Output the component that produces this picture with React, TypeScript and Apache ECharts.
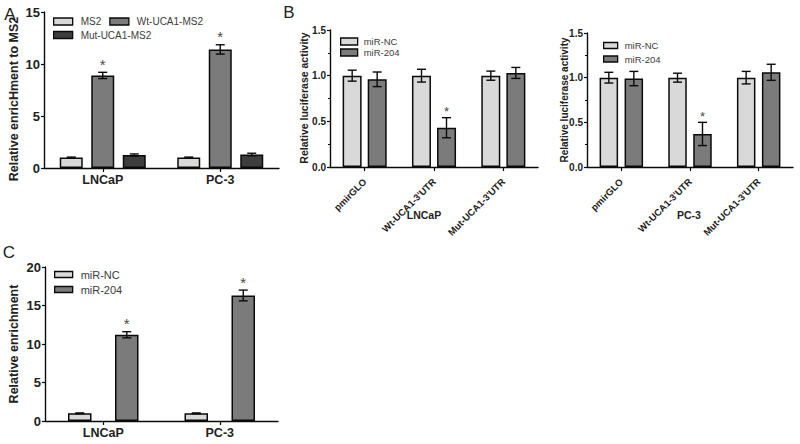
import React, { useEffect, useRef } from "react";
import * as echarts from "echarts";

// ---------- data ----------
const catsA = ["LNCaP", "PC-3"];
const ms2 = [1.0, 1.0];
const ms2Err = [0.05, 0.05];
const wtMs2 = [8.9, 11.4];
const wtMs2Err = [0.3, 0.45];
const mutMs2 = [1.25, 1.3];
const mutMs2Err = [0.1, 0.12];
const starsWtA = [1, 1];

const catsB = ["pmirGLO", "Wt-UCA1-3'UTR", "Mut-UCA1-3'UTR"];
const lucNcLNCaP = [1.0, 1.0, 1.0];
const lucNcLNCaPErr = [0.06, 0.07, 0.05];
const luc204LNCaP = [0.96, 0.43, 1.03];
const luc204LNCaPErr = [0.08, 0.11, 0.06];
const lucNcPC3 = [1.0, 1.0, 1.0];
const lucNcPC3Err = [0.06, 0.05, 0.07];
const luc204PC3 = [0.99, 0.37, 1.06];
const luc204PC3Err = [0.08, 0.13, 0.09];
const starsB = [0, 1, 0];

const catsC = ["LNCaP", "PC-3"];
const encNc = [1.0, 1.0];
const encNcErr = [0.05, 0.05];
const enc204 = [11.2, 16.3];
const enc204Err = [0.4, 0.7];
const starsC = [1, 1];

const ticksA = [0, 15, 5];
const ticksB = [0, 1.5, 0.5];
const ticksC = [0, 20, 5];

// ---------- styles ----------
const FONT = "'Liberation Sans', Arial, sans-serif";
const LIGHT = "#d9d9d9";
const MID = "#7b7b7b";
const DARK = "#3e3e3e";
const INK = "#0a0a0a";
const STAR = "#4a4a4a";

function bar(name: string, data: number[], g: number, color: string, bw: number, gap: string) {
  return {
    type: "bar",
    name,
    data,
    xAxisIndex: g,
    yAxisIndex: g,
    barWidth: bw,
    barGap: gap,
    itemStyle: { color, borderColor: INK, borderWidth: 1.5 },
    z: 2,
  };
}

function err(
  values: number[],
  errs: number[],
  stars: number[],
  g: number,
  k: number,
  n: number,
  bw: number,
  gapPx: number,
  cap: number,
  starSize: number,
  starLift: number
) {
  return {
    type: "custom",
    xAxisIndex: g,
    yAxisIndex: g,
    z: 5,
    silent: true,
    itemStyle: { color: STAR },
    data: values.map((v, i) => [i, v, errs[i], stars[i] || 0]),
    renderItem: (params: any, api: any) => {
      const i = api.value(0);
      const v = api.value(1);
      const e = api.value(2);
      const s = api.value(3);
      const base = api.coord([i, v]);
      const total = n * bw + (n - 1) * gapPx;
      const x = base[0] - total / 2 + bw / 2 + k * (bw + gapPx);
      const top = api.coord([i, v + e])[1];
      const bot = api.coord([i, v - e])[1];
      const ls = { stroke: INK, lineWidth: 1.4 };
      const children: any[] = [
        { type: "line", shape: { x1: x, y1: top, x2: x, y2: bot }, style: ls },
        { type: "line", shape: { x1: x - cap / 2, y1: top, x2: x + cap / 2, y2: top }, style: ls },
        { type: "line", shape: { x1: x - cap / 2, y1: bot, x2: x + cap / 2, y2: bot }, style: ls },
      ];
      if (s) {
        children.push({
          type: "text",
          x: x,
          y: top - starLift,
          style: {
            text: "*",
            fill: STAR,
            textFill: STAR,
            font: `${starSize}px ${FONT}`,
            textAlign: "center",
            textVerticalAlign: "middle",
          },
        });
      }
      return { type: "group", children };
    },
  };
}

function yAxisCfg(g: number, t: number[], fs: number, minor: boolean) {
  return {
    type: "value",
    gridIndex: g,
    min: t[0],
    max: t[1],
    interval: t[2],
    axisLine: { show: true, lineStyle: { color: INK, width: 1.4 } },
    axisTick: { show: true, length: 3, lineStyle: { color: INK, width: 1.2 } },
    minorTick: minor ? { show: true, splitNumber: 2, length: 2, lineStyle: { color: INK, width: 1 } } : { show: false },
    splitLine: { show: false },
    axisLabel: {
      fontFamily: FONT,
      fontWeight: "bold",
      fontSize: fs,
      color: "#222",
      margin: 4,
      formatter: (v: number) => (t[2] < 1 ? v.toFixed(1) : String(v)),
    },
  };
}

function xAxisCat(g: number, cats: string[], fs: number, rotate: number, margin: number) {
  return {
    type: "category",
    gridIndex: g,
    data: cats,
    axisLine: { show: true, lineStyle: { color: INK, width: 1.4 } },
    axisTick: { show: true, alignWithLabel: true, length: 4, lineStyle: { color: INK, width: 1.2 } },
    axisLabel: {
      interval: 0,
      rotate,
      fontFamily: FONT,
      fontWeight: "bold",
      fontSize: fs,
      color: "#222",
      margin,
    },
  };
}

function legendCfg(data: string[], left: number, top: number, opts: any) {
  return {
    data,
    left,
    top,
    padding: 0,
    icon: "rect",
    selectedMode: false,
    itemWidth: opts.w,
    itemHeight: opts.h,
    itemGap: opts.gap,
    orient: opts.orient || "horizontal",
    itemStyle: { borderColor: INK, borderWidth: 1.3 },
    textStyle: {
      fontFamily: FONT,
      fontSize: opts.fs,
      lineHeight: opts.lh,
      color: "#3c3c3c",
      padding: [0, 0, 0, opts.tp || 0],
    },
  };
}

function vtext(text: string, x: number, y: number, fs: number) {
  return {
    type: "text",
    x,
    y,
    rotation: Math.PI / 2,
    style: {
      text,
      font: `bold ${fs}px ${FONT}`,
      fill: "#222",
      textAlign: "center",
      textVerticalAlign: "middle",
    },
  };
}

function htext(text: string, x: number, y: number, font: string) {
  return {
    type: "text",
    x,
    y,
    style: { text, font, fill: "#222", textAlign: "center", textVerticalAlign: "middle" },
  };
}

export default function App() {
  const ref = useRef<HTMLDivElement>(null);
  useEffect(() => {
    if (!ref.current) return;
    const chart = echarts.init(ref.current, null, { renderer: "svg" });
    const option: any = {
      animation: false,
      backgroundColor: "#ffffff",
      textStyle: { fontFamily: FONT },
      grid: [
        { left: 44, top: 12, width: 235, height: 156 },
        { left: 330, top: 30, width: 208, height: 137 },
        { left: 587, top: 33, width: 206, height: 134 },
        { left: 45, top: 267, width: 233, height: 154 },
      ],
      xAxis: [
        xAxisCat(0, catsA, 12.5, 0, 5),
        xAxisCat(1, catsB, 9.5, 45, 13),
        xAxisCat(2, catsB, 9.5, 45, 13),
        xAxisCat(3, catsC, 12.5, 0, 5),
      ],
      yAxis: [
        yAxisCfg(0, ticksA, 13, false),
        yAxisCfg(1, ticksB, 10, true),
        yAxisCfg(2, ticksB, 10, true),
        yAxisCfg(3, ticksC, 13, false),
      ],
      legend: [
        legendCfg(["MS2", "Wt-UCA1-MS2"], 53, 15, { w: 19, h: 7, gap: 8, fs: 10, lh: 13, tp: 3 }),
        legendCfg(["Mut-UCA1-MS2"], 53, 28.5, { w: 19, h: 7, gap: 8, fs: 10, lh: 13, tp: 3 }),
        legendCfg(["miR-NC", "miR-204"], 340, 36, { w: 17, h: 7, gap: 0, fs: 9.5, lh: 11, orient: "vertical", tp: 1 }),
        legendCfg(["miR-NC", "miR-204"], 603, 40, { w: 14, h: 6, gap: 2.5, fs: 9.5, lh: 11, orient: "vertical", tp: 2 }),
        legendCfg(["miR-NC", "miR-204"], 54, 268, { w: 18, h: 6, gap: 2, fs: 11, lh: 13, orient: "vertical", tp: 3 }),
      ],
      series: [
        // A
        bar("MS2", ms2, 0, LIGHT, 23, "37%"),
        bar("Wt-UCA1-MS2", wtMs2, 0, MID, 23, "37%"),
        bar("Mut-UCA1-MS2", mutMs2, 0, DARK, 23, "37%"),
        err(ms2, ms2Err, [0, 0], 0, 0, 3, 23, 8.5, 9, 15, 8),
        err(wtMs2, wtMs2Err, starsWtA, 0, 1, 3, 23, 8.5, 9, 15, 8),
        err(mutMs2, mutMs2Err, [0, 0], 0, 2, 3, 23, 8.5, 9, 15, 8),
        // B LNCaP
        bar("miR-NC", lucNcLNCaP, 1, LIGHT, 19, "32%"),
        bar("miR-204", luc204LNCaP, 1, MID, 19, "32%"),
        err(lucNcLNCaP, lucNcLNCaPErr, [0, 0, 0], 1, 0, 2, 19, 6, 9, 13, 6),
        err(luc204LNCaP, luc204LNCaPErr, starsB, 1, 1, 2, 19, 6, 9, 13, 6),
        // B PC-3
        bar("miR-NC", lucNcPC3, 2, LIGHT, 18.5, "35%"),
        bar("miR-204", luc204PC3, 2, MID, 18.5, "35%"),
        err(lucNcPC3, lucNcPC3Err, [0, 0, 0], 2, 0, 2, 18.5, 6.5, 9, 13, 6),
        err(luc204PC3, luc204PC3Err, starsB, 2, 1, 2, 18.5, 6.5, 9, 13, 6),
        // C
        bar("miR-NC", encNc, 3, LIGHT, 23.5, "100%"),
        bar("miR-204", enc204, 3, MID, 23.5, "100%"),
        err(encNc, encNcErr, [0, 0], 3, 0, 2, 23.5, 23.5, 9, 15, 8),
        err(enc204, enc204Err, starsC, 3, 1, 2, 23.5, 23.5, 9, 15, 8),
      ],
      graphic: [
        htext("A", 10, 14, `17px ${FONT}`),
        htext("B", 289, 12, `17px ${FONT}`),
        htext("C", 9, 252, `17px ${FONT}`),
        vtext("Relative enricHment to MS2", 14, 99, 12.5),
        vtext("Relative luciferase activity", 304, 98, 10.5),
        vtext("Relative luciferase activity", 564, 100, 10),
        vtext("Relative enrichment", 14, 344, 12.5),
        htext("LNCaP", 424, 215, `bold 10.5px ${FONT}`),
        htext("PC-3", 689, 215, `bold 10.5px ${FONT}`),
      ],
    };
    chart.setOption(option);
    return () => chart.dispose();
  }, []);
  return (
    <div
      ref={ref}
      style={{ position: "fixed", left: 0, top: 0, width: 800, height: 444, background: "#fff" }}
    />
  );
}
